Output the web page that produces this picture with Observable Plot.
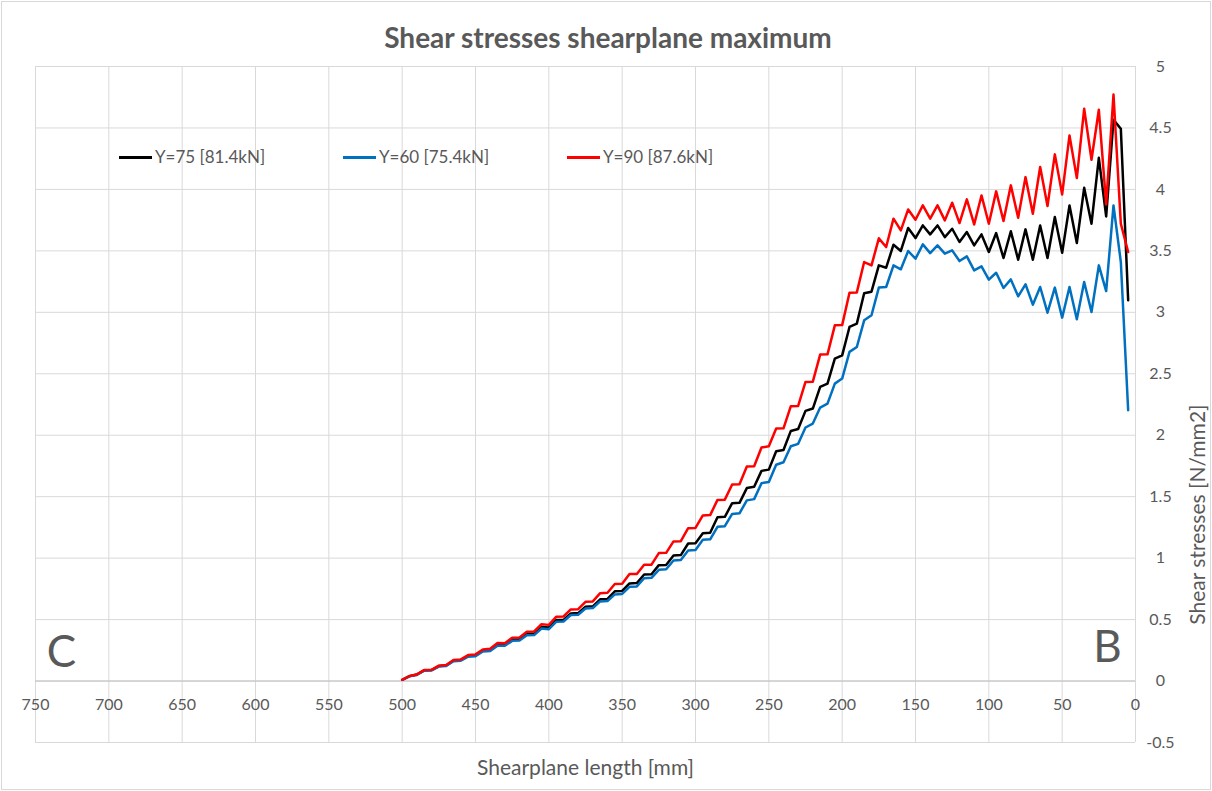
<!DOCTYPE html>
<html>
<head>
<meta charset="utf-8">
<script src="https://cdn.jsdelivr.net/npm/d3@7"></script>
<script src="https://cdn.jsdelivr.net/npm/@observablehq/plot@0.6"></script>
<style>
  html, body { margin: 0; padding: 0; background: #fff; }
  #wrap { position: relative; width: 1212px; height: 791px; overflow: hidden; font-family: Lato, "Open Sans", sans-serif; }
  #frame { position: absolute; left: 1px; top: 1px; width: 1208px; height: 787px; border: 1px solid #d9d9d9; pointer-events: none; }
  #title { position: absolute; left: 0; top: 21px; width: 1216px; text-align: center; font-size: 28px; line-height: 32px; font-weight: bold; color: #595959; }
  #chart { position: absolute; left: 0; top: 40px; }
  #chart svg { overflow: visible; }
  #legend { position: absolute; left: 119px; top: 146px; display: flex; }
  .item { width: 224px; display: flex; align-items: center; font-size: 17px; line-height: 22px; color: #595959; }
  .swatch { width: 33px; height: 3px; margin-right: 3px; }
</style>
</head>
<body>
<div id="wrap">
  <div id="frame"></div>
  <div id="title">Shear stresses shearplane maximum</div>
  <div id="chart"></div>
  <div id="legend"></div>
</div>
<script>
const positions = [500,495,490,485,480,475,470,465,460,455,450,445,440,435,430,425,420,415,410,405,
  400,395,390,385,380,375,370,365,360,355,350,345,340,335,330,325,320,315,310,305,
  300,295,290,285,280,275,270,265,260,255,250,245,240,235,230,225,220,215,210,205,
  200,195,190,185,180,175,170,165,160,155,150,145,140,135,130,125,120,115,110,105,
  100,95,90,85,80,75,70,65,60,55,50,45,40,35,30,25,20,15,10,5];

const y75 = [0.01,0.04,0.053,0.087,0.089,0.122,0.127,0.167,0.171,0.205,0.209,0.248,0.253,0.298,0.297,0.338,0.340,0.384,0.386,0.440,
  0.435,0.496,0.498,0.550,0.553,0.604,0.608,0.665,0.668,0.730,0.733,0.794,0.797,0.867,0.869,0.943,0.945,1.022,1.025,1.119,
  1.122,1.203,1.206,1.333,1.336,1.447,1.450,1.570,1.580,1.710,1.720,1.870,1.880,2.035,2.050,2.198,2.217,2.393,2.420,2.623,
  2.650,2.881,2.908,3.155,3.168,3.382,3.363,3.550,3.499,3.686,3.604,3.707,3.634,3.707,3.612,3.680,3.572,3.653,3.545,3.634,
  3.491,3.645,3.442,3.659,3.428,3.675,3.428,3.707,3.442,3.775,3.485,3.870,3.564,4.013,3.721,4.257,3.780,4.566,4.493,3.098];

const y60 = [0.01,0.038,0.05,0.084,0.086,0.118,0.122,0.161,0.165,0.198,0.202,0.240,0.245,0.288,0.287,0.327,0.329,0.372,0.374,0.427,
  0.422,0.482,0.484,0.537,0.540,0.590,0.594,0.648,0.651,0.705,0.709,0.767,0.770,0.837,0.840,0.905,0.909,0.981,0.985,1.062,
  1.066,1.149,1.153,1.255,1.260,1.360,1.365,1.470,1.480,1.610,1.620,1.760,1.780,1.910,1.930,2.063,2.095,2.225,2.257,2.420,
  2.461,2.678,2.718,2.935,2.976,3.201,3.206,3.382,3.350,3.499,3.436,3.553,3.482,3.545,3.477,3.504,3.417,3.455,3.341,3.374,
  3.266,3.322,3.198,3.268,3.130,3.228,3.062,3.206,2.997,3.201,2.957,3.206,2.943,3.247,3.003,3.382,3.173,3.870,3.409,2.203];

const y90 = [0.01,0.041,0.054,0.089,0.091,0.125,0.130,0.171,0.176,0.211,0.217,0.257,0.263,0.310,0.308,0.352,0.354,0.401,0.403,0.462,
  0.457,0.523,0.525,0.583,0.585,0.645,0.648,0.715,0.718,0.790,0.792,0.870,0.871,0.946,0.947,1.041,1.043,1.136,1.138,1.244,
  1.246,1.347,1.350,1.474,1.476,1.599,1.601,1.745,1.748,1.900,1.910,2.054,2.056,2.236,2.238,2.434,2.436,2.656,2.658,2.894,
  2.896,3.160,3.162,3.409,3.382,3.602,3.531,3.762,3.667,3.837,3.753,3.870,3.762,3.870,3.748,3.892,3.726,3.919,3.715,3.951,
  3.721,3.984,3.743,4.033,3.770,4.100,3.802,4.182,3.865,4.285,3.959,4.439,4.092,4.656,4.241,4.648,3.878,4.772,3.721,3.491];

const seriesNames = ["Y=75 [81.4kN]", "Y=60 [75.4kN]", "Y=90 [87.6kN]"];
const seriesColors = ["#000000", "#0070C0", "#FF0000"];
const seriesValues = [y75, y60, y90];

const xTicks = [750,700,650,600,550,500,450,400,350,300,250,200,150,100,50,0];
const yTicks = [-0.5,0,0.5,1,1.5,2,2.5,3,3.5,4,4.5,5];
const endLabels = ["C", "B"];
const endPositions = [750, 0];
const xTitle = "Shearplane length [mm]";
const yTitle = "Shear stresses [N/mm2]";

const rows = [];
seriesNames.forEach((name, i) => {
  positions.forEach((p, j) => rows.push({series: name, x: p, v: seriesValues[i][j]}));
});

const ends = endLabels.map((t, i) => ({t, x: endPositions[i]}));

const chart = Plot.plot({
  width: 1212,
  height: 751,
  marginTop: 26,
  marginBottom: 49,
  marginLeft: 35,
  marginRight: 77,
  style: {fontFamily: "Lato, 'Open Sans', sans-serif", background: "transparent", overflow: "visible"},
  x: {domain: [750, 0], axis: null},
  y: {domain: [-0.5, 5], axis: null},
  color: {domain: seriesNames, range: seriesColors},
  marks: [
    Plot.gridX(xTicks, {stroke: "#d9d9d9", strokeOpacity: 1}),
    Plot.gridY(yTicks, {stroke: "#d9d9d9", strokeOpacity: 1}),
    Plot.ruleY([0], {stroke: "#bfbfbf", strokeWidth: 1}),
    Plot.axisY(yTicks, {anchor: "right", tickSize: 0, tickPadding: 25, textAnchor: "middle",
      tickFormat: d => String(d), fontSize: 16, fill: "#595959", label: null}),
    Plot.text(xTicks, {x: d => d, y: 0, dy: 24, text: d => String(d), fontSize: 16, fill: "#595959"}),
    Plot.text([xTitle], {frameAnchor: "bottom", dy: 32, text: d => d, fontSize: 21, fill: "#595959"}),
    Plot.text([yTitle], {frameAnchor: "right", dx: 63, rotate: -90, text: d => d, fontSize: 21, fill: "#595959"}),
    Plot.text(ends.slice(0, 1), {x: "x", y: 0, text: "t", dx: 26, dy: -28, fontSize: 44, fill: "#595959"}),
    Plot.text(ends.slice(1, 2), {x: "x", y: 0, text: "t", dx: -28, dy: -33, fontSize: 44, fill: "#595959"}),
    Plot.line(rows, {x: "x", y: "v", z: "series", stroke: "series", strokeWidth: 2.5, strokeLinejoin: "round", strokeLinecap: "round"})
  ]
});
document.getElementById("chart").appendChild(chart);

const legend = document.getElementById("legend");
seriesNames.forEach((name, i) => {
  const item = document.createElement("div");
  item.className = "item";
  const sw = document.createElement("span");
  sw.className = "swatch";
  sw.style.background = seriesColors[i];
  const lab = document.createElement("span");
  lab.textContent = name;
  item.appendChild(sw);
  item.appendChild(lab);
  legend.appendChild(item);
});
</script>
</body>
</html>
